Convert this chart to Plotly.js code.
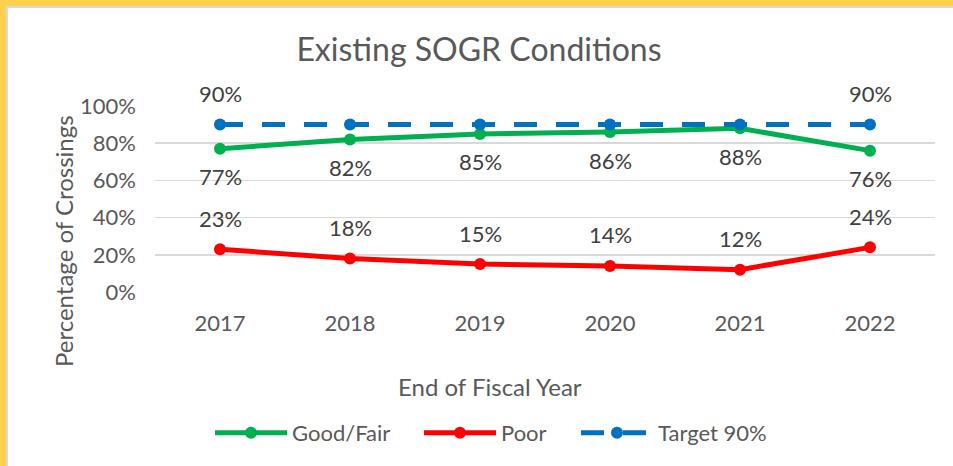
<!DOCTYPE html>
<html>
<head>
<meta charset="utf-8">
<script src="https://cdn.plot.ly/plotly-3.0.1.min.js"></script>
<style>
  html, body { margin: 0; padding: 0; background: #ffffff; }
  #wrap { position: relative; width: 953px; height: 466px; overflow: hidden; }
  #chart { position: absolute; left: 0; top: 0; width: 953px; height: 466px; }
  .bd { position: absolute; pointer-events: none; }
</style>
</head>
<body>
<div id="wrap">
  <div id="chart"></div>
  <div class="bd" style="left:0;top:0;width:953px;height:6px;background:#FFD04F;"></div>
  <div class="bd" style="left:6px;top:6px;width:947px;height:2px;background:#D9D9D9;"></div>
  <div class="bd" style="left:0;top:0;width:6px;height:466px;background:#FFD04F;"></div>
  <div class="bd" style="left:6px;top:6px;width:2px;height:460px;background:#D9D9D9;"></div>
</div>
<script>
// ---- data ----
const years = ['2017', '2018', '2019', '2020', '2021', '2022'];
const goodFair = [0.77, 0.82, 0.85, 0.86, 0.88, 0.76];
const poor = [0.23, 0.18, 0.15, 0.14, 0.12, 0.24];
const target = [0.90, 0.90, 0.90, 0.90, 0.90, 0.90];
const targetLabelIndex = [0, 5];
const yTickVals = [0, 0.2, 0.4, 0.6, 0.8, 1.0];
const yTickText = ['0%', '20%', '40%', '60%', '80%', '100%'];

const FONT = 'Lato, "Open Sans", sans-serif';
const GREEN = '#00B050', RED = '#FF0000', BLUE = '#0070C0';

function pct(v) { return Math.round(v * 100) + '%'; }

const traces = [
  {
    x: years, y: goodFair, name: 'Good/Fair', type: 'scatter', mode: 'lines+markers',
    line: { color: GREEN, width: 5 }, marker: { color: GREEN, size: 12 }, cliponaxis: false,
    legend: 'legend'
  },
  {
    x: years, y: poor, name: 'Poor', type: 'scatter', mode: 'lines+markers',
    line: { color: RED, width: 5 }, marker: { color: RED, size: 12 }, cliponaxis: false,
    legend: 'legend2'
  },
  {
    x: years, y: target, name: 'Target 90%', type: 'scatter', mode: 'lines+markers',
    line: { color: BLUE, width: 5, dash: '23px,19px' }, marker: { color: BLUE, size: 12 }, cliponaxis: false,
    legend: 'legend3'
  }
];

// data labels: category axis positions given by category index
const labelFont = { family: FONT, size: 22, color: '#404040' };
const annotations = [];
goodFair.forEach((v, i) => annotations.push({
  x: i, y: v, xref: 'x', yref: 'y', text: pct(v), showarrow: false,
  yshift: -28, font: labelFont
}));
poor.forEach((v, i) => annotations.push({
  x: i, y: v, xref: 'x', yref: 'y', text: pct(v), showarrow: false,
  yshift: 31, font: labelFont
}));
targetLabelIndex.forEach(i => annotations.push({
  x: i, y: target[i], xref: 'x', yref: 'y', text: pct(target[i]), showarrow: false,
  yshift: 31, font: labelFont
}));
// axis titles
annotations.push({
  text: 'Percentage of Crossings', xref: 'paper', yref: 'paper',
  x: -0.118, y: 0.274, xanchor: 'center', yanchor: 'middle', textangle: -90,
  showarrow: false, font: { family: FONT, size: 24, color: '#595959' }
});
annotations.push({
  text: 'End of Fiscal Year', xref: 'paper', yref: 'paper',
  x: 0.43, y: -0.51, xanchor: 'center', yanchor: 'middle',
  showarrow: false, font: { family: FONT, size: 24, color: '#595959' }
});

const legFont = { family: FONT, size: 22, color: '#595959' };
function leg(px) {
  return {
    orientation: 'h', x: (px - 155) / 780, y: -0.758, xanchor: 'left', yanchor: 'middle',
    font: legFont, itemwidth: 72, bgcolor: 'rgba(0,0,0,0)', borderwidth: 0
  };
}

const layout = {
  width: 953, height: 466,
  margin: { l: 155, r: 18, t: 106, b: 174 },
  paper_bgcolor: '#ffffff', plot_bgcolor: '#ffffff',
  font: { family: FONT, color: '#595959' },
  title: {
    text: 'Existing SOGR Conditions', xref: 'container', yref: 'container',
    x: 0.5026, y: 0.893, xanchor: 'center', yanchor: 'middle',
    font: { family: FONT, size: 32, color: '#595959' }
  },
  xaxis: {
    type: 'category', range: [-0.5, 5.5], showgrid: false, zeroline: false,
    showline: false, ticks: '', ticklabelstandoff: 16,
    tickfont: { family: FONT, size: 22, color: '#595959' }, fixedrange: true
  },
  yaxis: {
    range: [0, 1], tickvals: yTickVals, ticktext: yTickText,
    showgrid: true, gridcolor: '#D9D9D9', gridwidth: 1.5, zeroline: false,
    showline: false, ticks: '', ticklabelstandoff: 18,
    tickfont: { family: FONT, size: 22, color: '#595959' }, fixedrange: true
  },
  showlegend: true,
  legend: leg(210),
  legend2: leg(419),
  legend3: leg(576),
  annotations: annotations
};

Plotly.newPlot('chart', traces, layout, { displayModeBar: false, staticPlot: true });
</script>
</body>
</html>
